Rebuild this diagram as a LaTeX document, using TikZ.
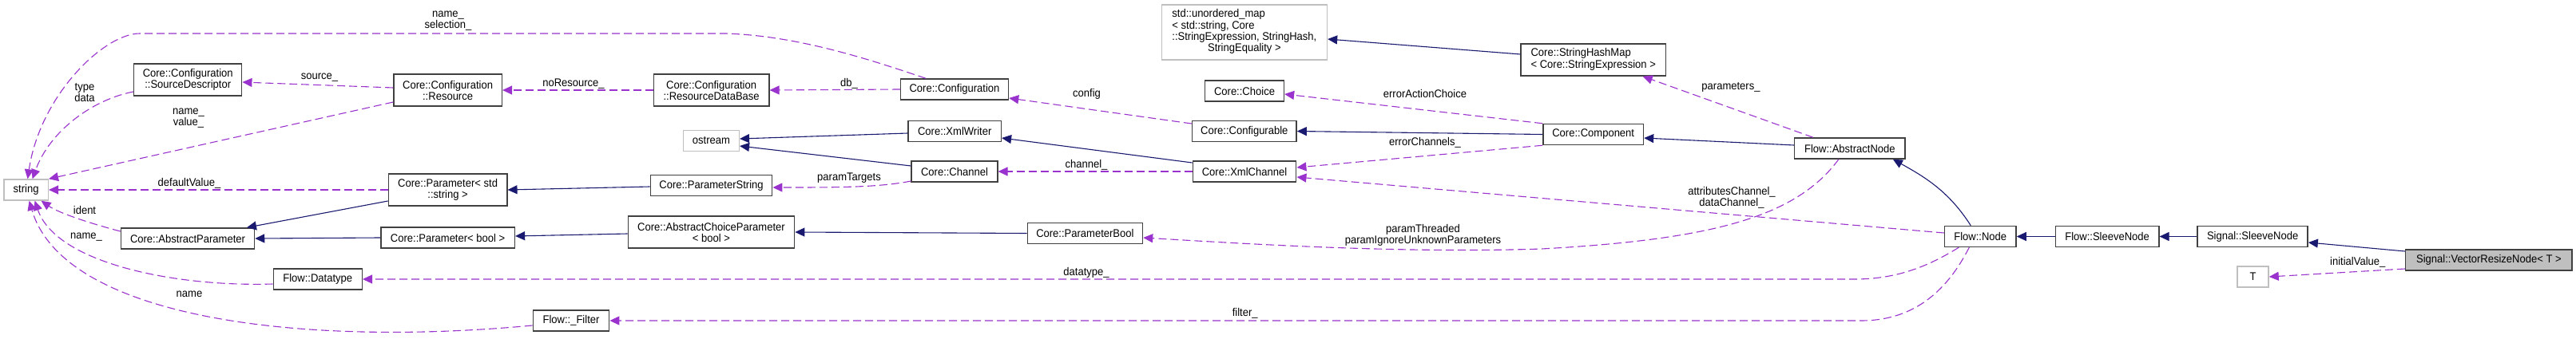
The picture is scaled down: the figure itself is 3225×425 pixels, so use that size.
\documentclass[tikz,border=0pt]{standalone}
\usepackage{fontspec}
\setmainfont{Liberation Sans}[FakeStretch=0.93]
\usetikzlibrary{arrows.meta}
\definecolor{inh}{HTML}{191970}
\definecolor{usec}{HTML}{9A32CD}
\definecolor{bord}{HTML}{404040}
\definecolor{extc}{HTML}{BFBFBF}
\tikzset{
  cls/.style={draw=bord, line width=1.5pt, inner sep=0pt, align=center, fill=white,
    font=\fontsize{14}{14}\selectfont},
  extcls/.style={cls, draw=extc},
  maincls/.style={cls, fill=extc},
  inhE/.style={draw=inh, line width=1.1pt, -{Triangle[length=12pt,width=11pt]}},
  useE/.style={draw=usec, line width=1.1pt, dash pattern=on 10pt off 5pt,
    -{Triangle[length=12pt,width=11pt]}},
  lab/.style={font=\fontsize{14}{14}\selectfont, align=center, inner sep=0pt},
}
\begin{document}
\begin{tikzpicture}[x=1pt,y=-1pt]
\path[use as bounding box] (0,0) rectangle (3225,425);
% nodes
\node[extcls, minimum width=55.4pt, minimum height=26pt] (string) at (32.6,238) {string};
\node[cls, minimum width=135pt, minimum height=40pt] (srcdesc) at (235.2,100) {Core::Configuration\\::SourceDescriptor};
\node[cls, minimum width=167pt, minimum height=26pt] (absparam) at (235,299) {Core::AbstractParameter};
\node[cls, minimum width=111pt, minimum height=26pt] (datatype) at (397.75,350) {Flow::Datatype};
\node[cls, minimum width=135.4pt, minimum height=40pt] (resource) at (560.6,113) {Core::Configuration\\::Resource};
\node[cls, minimum width=144.3pt, minimum height=40pt] (resdb) at (890.65,113) {Core::Configuration\\::ResourceDataBase};
\node[extcls, minimum width=69.6pt, minimum height=26pt] (ostream) at (890.5,176.5) {ostream};
\node[cls, minimum width=148.4pt, minimum height=40pt] (paramstr) at (560.6,238) {Core::Parameter< std\\::string >};
\node[cls, minimum width=152.3pt, minimum height=26pt] (parameterstring) at (890.5,232.5) {Core::ParameterString};
\node[cls, minimum width=167.6pt, minimum height=26pt] (parambool) at (560.6,298) {Core::Parameter< bool >};
\node[cls, minimum width=208.2pt, minimum height=40pt] (abschoice) at (890.5,291) {Core::AbstractChoiceParameter\\< bool >};
\node[cls, minimum width=95.3pt, minimum height=26pt] (filter) at (715,402) {Flow::\_Filter};
\node[extcls, minimum width=207.1pt, minimum height=69pt] (umap) at (1557.85,40.5)
  {\begin{tabular}{@{}l@{}}std::unordered\_map\\< std::string, Core\\::StringExpression, StringHash,\\\multicolumn{1}{@{}c@{}}{StringEquality >}\end{tabular}};
\node[cls, minimum width=135pt, minimum height=26pt] (configuration) at (1195,112) {Core::Configuration};
\node[cls, minimum width=116.3pt, minimum height=26pt] (xmlwriter) at (1195.2,164.5) {Core::XmlWriter};
\node[cls, minimum width=107.6pt, minimum height=26pt] (channel) at (1195,215) {Core::Channel};
\node[cls, minimum width=144.2pt, minimum height=26pt] (parameterbool) at (1358.4,292.5) {Core::ParameterBool};
\node[cls, minimum width=98.8pt, minimum height=26pt] (choice) at (1558,114) {Core::Choice};
\node[cls, minimum width=130.6pt, minimum height=26pt] (configurable) at (1557.8,164.5) {Core::Configurable};
\node[cls, minimum width=129.4pt, minimum height=26pt] (xmlchannel) at (1558,215) {Core::XmlChannel};
\node[cls, minimum width=181.4pt, minimum height=40pt] (strhashmap) at (1994.7,75)
  {\begin{tabular}{@{}l@{}}Core::StringHashMap\\< Core::StringExpression >\end{tabular}};
\node[cls, minimum width=125.6pt, minimum height=26pt] (component) at (1994.7,168.5) {Core::Component};
\node[cls, minimum width=138.5pt, minimum height=26pt] (abstractnode) at (2315.85,186) {Flow::AbstractNode};
\node[cls, minimum width=89.5pt, minimum height=26pt] (flownode) at (2479.25,296.5) {Flow::Node};
\node[cls, minimum width=129.4pt, minimum height=26pt] (flowsleeve) at (2638.1,296.5) {Flow::SleeveNode};
\node[cls, minimum width=137.9pt, minimum height=26pt] (sigsleeve) at (2820.15,296.5) {Signal::SleeveNode};
\node[maincls, minimum width=208.6pt, minimum height=26pt] (vrn) at (3115.9,326) {Signal::VectorResizeNode< T >};
\node[extcls, minimum width=39pt, minimum height=26pt] (T) at (2820.5,347) {T};
% inheritance edges
\draw[inhE] ([yshift=-1.5pt]parameterstring.west) -- (paramstr.east);
\draw[inhE] ([yshift=-14pt]paramstr.west) -- ([xshift=74pt]absparam.north);
\draw[inhE] (parambool.west) -- (absparam.east);
\draw[inhE] ([yshift=-2pt]abschoice.west) -- ([yshift=2pt]parambool.east);
\draw[inhE] (parameterbool.west) -- (abschoice.east);
\draw[inhE] ([yshift=-2.5pt]xmlwriter.west) -- ([yshift=2.5pt]ostream.east);
\draw[inhE] ([yshift=7pt]channel.west) -- ([yshift=-6.5pt]ostream.east);
\draw[inhE] ([yshift=11pt]xmlchannel.west) -- ([yshift=-8.5pt]xmlwriter.east);
\draw[inhE] (component.west) -- (configurable.east);
\draw[inhE] ([yshift=4pt]abstractnode.west) -- ([yshift=-4.5pt]component.east);
\draw[inhE] ([yshift=7pt]strhashmap.west) -- ([yshift=-8.5pt]umap.east);
\draw[inhE] ([xshift=-12pt]flownode.north) .. controls (2440,240) and (2410,222) .. ([xshift=54pt]abstractnode.south);
\draw[inhE] (flowsleeve.west) -- (flownode.east);
\draw[inhE] (sigsleeve.west) -- (flowsleeve.east);
\draw[inhE] ([yshift=11pt]vrn.west) -- ([yshift=-7.5pt]sigsleeve.east);
% usage edges
\draw[useE] ([xshift=-36pt]configuration.north) .. controls (1090,75) and (1000,45) .. (909,42) -- (175,42) .. controls (130,42) and (50,120) .. ([xshift=2pt]string.north);
\draw[useE] ([yshift=-15pt]srcdesc.west) .. controls (115,125) and (62,165) .. ([xshift=8pt]string.north);
\draw[useE] ([yshift=3pt]resource.west) -- ([yshift=-3pt]srcdesc.east);
\draw[useE] ([yshift=-15pt]resource.west) -- (string.north east);
\draw[useE] (resdb.west) -- (resource.east);
\draw[useE] (configuration.west) -- (resdb.east);
\draw[useE] (paramstr.west) -- (string.east);
\draw[useE] ([yshift=9pt]absparam.west) .. controls (120,282) and (75,268) .. ([xshift=19pt]string.south);
\draw[useE] ([yshift=-6pt]datatype.west) .. controls (220,360) and (70,330) .. ([xshift=11pt]string.south);
\draw[useE] ([yshift=-6pt]filter.west) .. controls (380,435) and (80,400) .. ([xshift=4pt]string.south);
\draw[useE] ([yshift=-12pt]channel.west) .. controls (1100,235) and (1050,235) .. ([yshift=-2.5pt]parameterstring.east);
\draw[useE] (xmlchannel.west) -- (channel.east);
\draw[useE] ([yshift=9.5pt]configurable.west) -- ([yshift=-11pt]configuration.east);
\draw[useE] (component.north west) -- ([yshift=-4pt]choice.east);
\draw[useE] (component.south west) -- ([yshift=5pt]xmlchannel.east);
\draw[useE] ([yshift=4.5pt]flownode.west) -- ([yshift=-7pt]xmlchannel.east);
\draw[useE] ([xshift=-46pt]abstractnode.north) -- ([xshift=62pt]strhashmap.south);
\draw[useE] ([xshift=-14pt]abstractnode.south) .. controls (2250,270) and (2150,300) .. (1930,312) .. controls (1750,318) and (1550,305) .. ([yshift=-5.5pt]parameterbool.east);
\draw[useE] ([xshift=-27pt]flownode.south) .. controls (2420,330) and (2380,350) .. (2322,350) -- (datatype.east);
\draw[useE] ([xshift=-14pt]flownode.south) .. controls (2440,360) and (2400,402) .. (2330,402) -- (filter.east);
\draw[useE] ([yshift=-11pt]vrn.west) -- (T.east);
% edge labels
\node[lab] (lselection) at (561,26) {name\_\\selection\_};
\node[lab] (ltypedata) at (106,116) {type\\data};
\node[lab] (lsource) at (400,97) {source\_};
\node[lab] (lnamevalue) at (236,148) {name\_\\value\_};
\node[lab] (ldefault) at (237,230) {defaultValue\_};
\node[lab] (lident) at (106,263) {ident};
\node[lab] (lname1) at (108,297) {name\_};
\node[lab] (lname2) at (237,369) {name};
\node[lab] (lnores) at (718,105) {noResource\_};
\node[lab] (ldb) at (1063,105) {db\_};
\node[lab] (lconfig) at (1360.5,118) {config};
\node[lab] (lchannel) at (1360,207) {channel\_};
\node[lab] (lparamtargets) at (1063,223) {paramTargets};
\node[lab] (ldatatype) at (1360,342) {datatype\_};
\node[lab] (lfilter) at (1558.7,393) {filter\_};
\node[lab] (lerrchoice) at (1784,117) {errorActionChoice};
\node[lab] (lerrchan) at (1784,179) {errorChannels\_};
\node[lab] (lthreaded) at (1781.5,294.5) {paramThreaded\\paramIgnoreUnknownParameters};
\node[lab] (lparams) at (2167,109) {parameters\_};
\node[lab] (lattr) at (2168,248) {attributesChannel\_\\dataChannel\_};
\node[lab] (linit) at (2951.8,329) {initialValue\_};
\end{tikzpicture}
\end{document}
